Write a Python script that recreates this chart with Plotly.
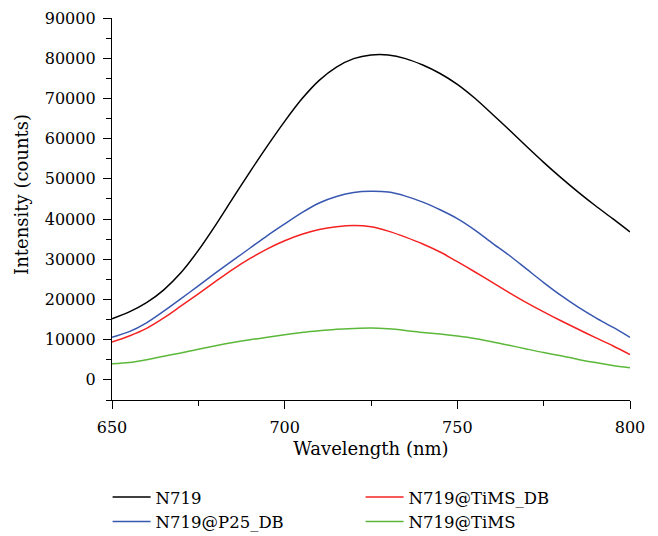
import plotly.graph_objects as go

wavelength = list(range(650, 801, 5))

n719 = [15.2, 16.9, 19.2, 22.4, 26.7, 32.2, 38.5, 45.2, 51.8, 58.2, 64.3, 69.9, 74.5, 77.8,
        79.9, 80.8, 80.8, 79.9, 78.3, 76.2, 73.5, 70.1, 66.2, 62.2, 58.1, 54.1, 50.3, 46.7,
        43.3, 40.1, 36.8]
n719_p25_db = [10.6, 12.0, 14.2, 17.1, 20.2, 23.4, 26.6, 29.7, 32.8, 35.9, 38.8, 41.6, 44.0,
               45.6, 46.6, 46.9, 46.7, 45.7, 44.2, 42.3, 40.1, 37.3, 34.1, 31.0, 27.6, 24.2,
               21.0, 18.1, 15.5, 13.1, 10.6]
n719_tims_db = [9.4, 10.9, 12.8, 15.4, 18.4, 21.4, 24.5, 27.5, 30.2, 32.6, 34.6, 36.2, 37.4,
                38.1, 38.4, 38.1, 37.0, 35.5, 33.8, 31.8, 29.4, 26.9, 24.3, 21.7, 19.2, 16.9,
                14.7, 12.6, 10.5, 8.5, 6.3]
n719_tims = [4.0, 4.3, 5.0, 5.9, 6.7, 7.6, 8.5, 9.3, 10.0, 10.6, 11.2, 11.8, 12.2, 12.6, 12.8,
             12.9, 12.7, 12.3, 11.8, 11.4, 10.9, 10.3, 9.5, 8.6, 7.7, 6.8, 6.0, 5.1, 4.3, 3.6,
             3.0]

series = [
    ("N719", n719, "#000000"),
    ("N719@TiMS_DB", n719_tims_db, "#f52222"),
    ("N719@P25_DB", n719_p25_db, "#3857b0"),
    ("N719@TiMS", n719_tims, "#5cb83a"),
]

FONT = "DejaVu Serif"

fig = go.Figure()
for name, vals, color in series:
    fig.add_trace(go.Scatter(
        x=wavelength, y=[v * 1000 for v in vals], name=name, mode="lines",
        line=dict(color=color, width=1.5, shape="spline", smoothing=0.8),
    ))

fig.update_layout(
    width=658, height=536,
    margin=dict(l=104, r=36, t=10, b=144, autoexpand=False),
    plot_bgcolor="white", paper_bgcolor="white",
    font=dict(family=FONT, size=16, color="black"),
    showlegend=True,
    legend=dict(
        orientation="h", x=-0.0085, xanchor="left", y=-0.209, yanchor="top",
        font=dict(family=FONT, size=16.5, color="black"),
        entrywidth=200, entrywidthmode="pixels", itemwidth=38,
        bgcolor="rgba(0,0,0,0)", tracegroupgap=0,
    ),
    annotations=[dict(
        text="Intensity (counts)", xref="paper", yref="paper",
        x=-0.1737, y=0.537, xanchor="center", yanchor="middle",
        textangle=-90, showarrow=False,
        font=dict(family=FONT, size=18, color="black"),
    )],
)

fig.update_xaxes(
    range=[650, 800], tick0=650, dtick=50, automargin=False,
    showline=True, linecolor="black", linewidth=1.3, mirror=False,
    ticks="outside", ticklen=8, tickwidth=1.3, tickcolor="black",
    minor=dict(dtick=25, tick0=650, ticks="outside", ticklen=5, tickwidth=1.3, tickcolor="black", showgrid=False),
    showgrid=False, zeroline=False, ticklabeloverflow="allow", ticklabelstandoff=5,
    tickfont=dict(family=FONT, size=16),
    title=dict(text="Wavelength (nm)", font=dict(family=FONT, size=18), standoff=6),
)
fig.update_yaxes(
    range=[-5000, 90000], tick0=0, dtick=10000, tickformat="d", automargin=False,
    showline=True, linecolor="black", linewidth=1.3, mirror=False,
    ticks="outside", ticklen=8, tickwidth=1.3, tickcolor="black",
    minor=dict(dtick=5000, tick0=0, ticks="outside", ticklen=5, tickwidth=1.3, tickcolor="black", showgrid=False),
    showgrid=False, zeroline=False, ticklabeloverflow="allow", ticklabelstandoff=4,
    tickfont=dict(family=FONT, size=16),
)

fig.write_html("out.html")
